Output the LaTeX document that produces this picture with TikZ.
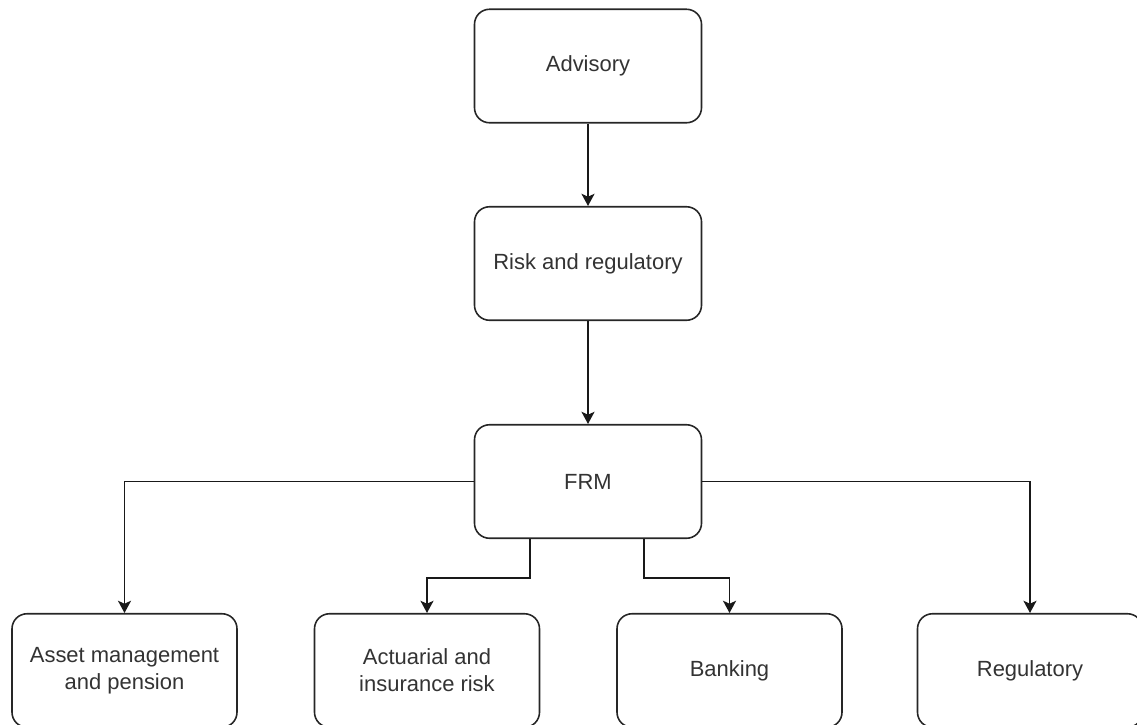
\documentclass[tikz,border=0pt]{standalone}
\usepackage{fontspec}
\setmainfont{Liberation Sans}
\usepackage{xcolor}
\usetikzlibrary{arrows.meta, positioning, calc}

\tikzset{
	unitbox/.style={draw=black!85, line width=0.9pt, rounded corners=0.3cm,
		minimum width=4.54cm, minimum height=2.27cm, align=center,
		text=black!80, font=\fontsize{12.5}{15.5}\selectfont},
	link/.style={draw=black!90, line width=0.9pt,
		-{Stealth[length=7pt, width=7.5pt, inset=1.8pt]}}
}

\begin{document}
\begin{tikzpicture}
			\useasboundingbox (0,0) rectangle (22.74,-14.48);
			\clip (0,0) rectangle (22.74,-14.48);
			% top chain
			\node[unitbox] (advisory) at (11.76,-1.32) {Advisory};
			\node[unitbox] (riskreg) at (11.76,-5.27) {Risk and regulatory};
			\node[unitbox] (frm) at (11.76,-9.63) {FRM};
			% practice areas
			\node[unitbox, minimum width=4.5cm] (asset) at (2.49,-13.41) {Asset management\\and pension};
			\node[unitbox, minimum width=4.5cm] (actuarial) at (8.54,-13.41) {Actuarial and\\insurance risk};
			\node[unitbox, minimum width=4.5cm] (banking) at (14.59,-13.41) {Banking};
			\node[unitbox, minimum width=4.5cm] (regulatory) at (20.6,-13.41) {Regulatory};
			% connectors
			\draw[link] (advisory) -- (riskreg);
			\draw[link] (riskreg) -- (frm);
			\draw[link] (frm.west) -| (asset.north);
			\draw[link] (frm.east) -| (regulatory.north);
			\draw[link] ([xshift=-1.16cm]frm.south) -- ++(0,-0.78) -| (actuarial.north);
			\draw[link] ([xshift=1.12cm]frm.south) -- ++(0,-0.78) -| (banking.north);
		\end{tikzpicture}
\end{document}
